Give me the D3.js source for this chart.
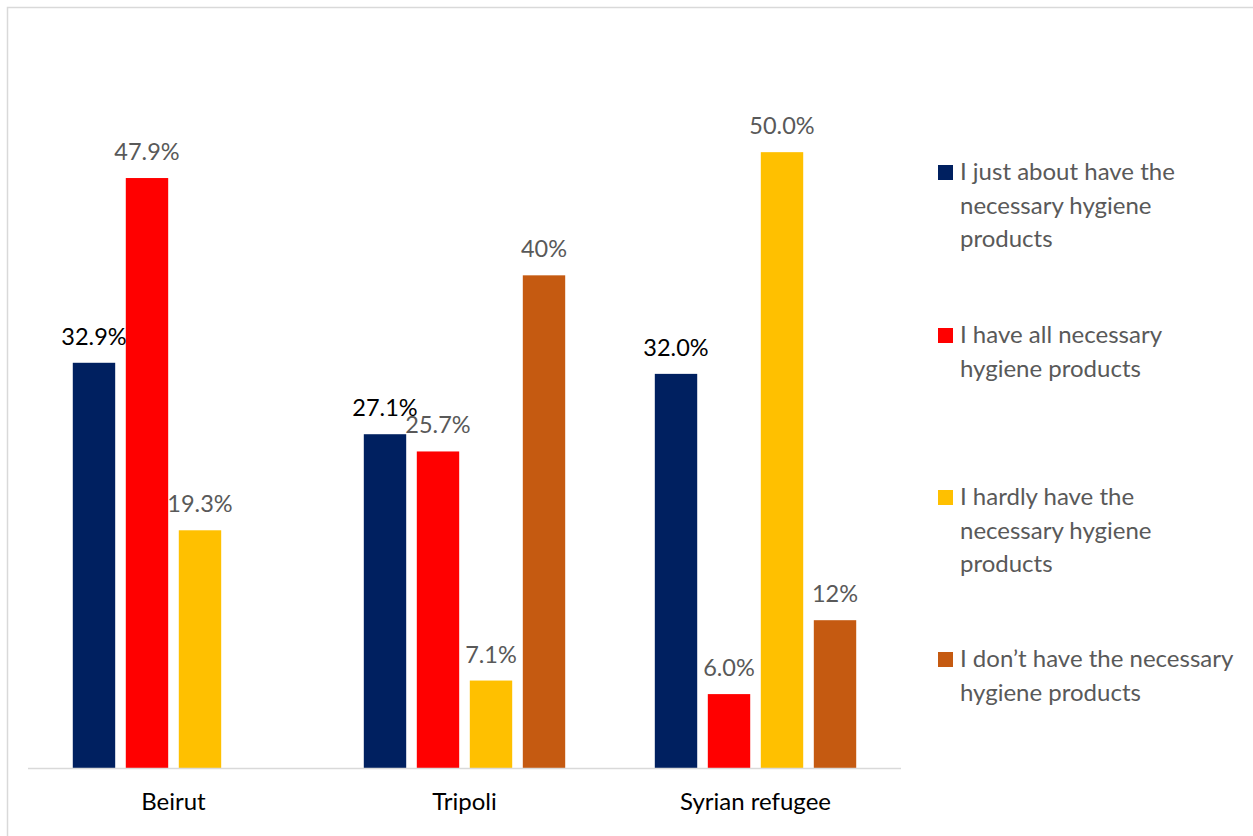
<!DOCTYPE html>
<html>
<head>
<meta charset="utf-8">
<script src="https://cdn.jsdelivr.net/npm/d3@7"></script>
<style>
  html, body { margin: 0; padding: 0; background: #fff; }
  svg { display: block; }
  text { font-family: Lato, "Open Sans", sans-serif; }
</style>
</head>
<body>
<svg id="chart" width="1253" height="836"></svg>
<script>
const categories = ["Beirut", "Tripoli", "Syrian refugee"];
const seriesNames = [
  "I just about have the necessary hygiene products",
  "I have all necessary hygiene products",
  "I hardly have the necessary hygiene products",
  "I don’t have the necessary hygiene products"
];
const legendLines = [
  ["I just about have the", "necessary hygiene", "products"],
  ["I have all necessary", "hygiene products"],
  ["I hardly have the", "necessary hygiene", "products"],
  ["I don’t have the necessary", "hygiene products"]
];
const colors = ["#002060", "#FF0000", "#FFC000", "#C55A11"];
const justAbout = [32.9, 27.1, 32.0];
const haveAll = [47.9, 25.7, 6.0];
const hardly = [19.3, 7.1, 50.0];
const dontHave = [null, 40, 12];
const labelsJustAbout = ["32.9%", "27.1%", "32.0%"];
const labelsHaveAll = ["47.9%", "25.7%", "6.0%"];
const labelsHardly = ["19.3%", "7.1%", "50.0%"];
const labelsDontHave = [null, "40%", "12%"];

const values = [justAbout, haveAll, hardly, dontHave];
const labels = [labelsJustAbout, labelsHaveAll, labelsHardly, labelsDontHave];
const labelColors = ["#000000", "#595959", "#595959", "#595959"];

const svg = d3.select("#chart");

svg.append("rect")
  .attr("x", 7.5).attr("y", 7.5)
  .attr("width", 1260).attr("height", 840)
  .attr("fill", "#fff").attr("stroke", "#d9d9d9").attr("stroke-width", 1.5);

const x0 = d3.scaleBand().domain(categories).range([28, 901])
  .paddingInner(0.2715).paddingOuter(0.1357);
const x1 = d3.scaleBand().domain(d3.range(seriesNames.length)).range([0, x0.bandwidth()])
  .paddingInner(0.2).paddingOuter(0.1);
const y = d3.scaleLinear().domain([0, 60]).range([768, 29]);

const data = [];
categories.forEach((c, ci) => {
  values.forEach((arr, si) => {
    if (arr[ci] != null) data.push({ c, si, v: arr[ci], label: labels[si][ci] });
  });
});

const g = svg.append("g");
g.selectAll("rect.bar").data(data).enter().append("rect")
  .attr("class", "bar")
  .attr("x", d => x0(d.c) + x1(d.si))
  .attr("y", d => y(d.v))
  .attr("width", x1.bandwidth())
  .attr("height", d => y(0) - y(d.v))
  .attr("fill", d => colors[d.si]);

g.selectAll("text.lbl").data(data).enter().append("text")
  .attr("class", "lbl")
  .attr("x", d => x0(d.c) + x1(d.si) + x1.bandwidth() / 2)
  .attr("y", d => y(d.v) - 18)
  .attr("text-anchor", "middle")
  .attr("font-size", 23.5)
  .attr("fill", d => labelColors[d.si])
  .text(d => d.label);

// axis
const axis = svg.append("g").attr("transform", `translate(0,${y(0)})`)
  .call(d3.axisBottom(x0).tickSize(0).tickPadding(25));
axis.select(".domain").attr("stroke", "#d9d9d9").attr("stroke-width", 1.5)
  .attr("d", `M28,0.5H901`);
axis.selectAll("text").attr("font-size", 24).attr("fill", "#000")
  .attr("font-family", "Lato, 'Open Sans', sans-serif");

// legend
const legendTops = [180, 343, 505, 667];
const lg = svg.append("g");
legendLines.forEach((lines, i) => {
  lg.append("rect")
    .attr("x", 938).attr("y", legendTops[i] - 15)
    .attr("width", 15).attr("height", 15)
    .attr("fill", colors[i]);
  const t = lg.append("text")
    .attr("x", 960).attr("y", legendTops[i])
    .attr("font-size", 24).attr("fill", "#595959");
  lines.forEach((ln, j) => {
    t.append("tspan").attr("x", 960).attr("dy", j === 0 ? 0 : 33.5).text(ln);
  });
});
</script>
</body>
</html>
